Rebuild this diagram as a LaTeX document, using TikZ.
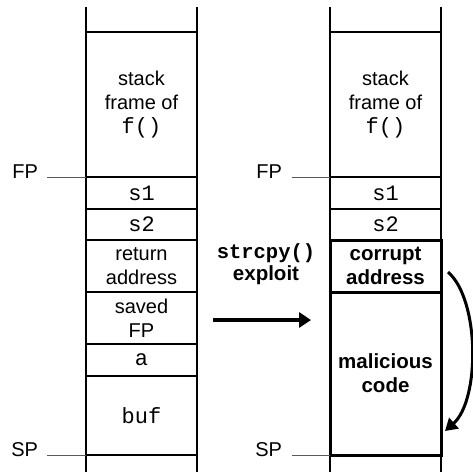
\documentclass[tikz,border=0pt]{standalone}
\usepackage{fontspec}
\setmainfont{Liberation Sans}
\setmonofont{Liberation Mono}
\usetikzlibrary{positioning,arrows.meta}

\newcommand{\code}[1]{{\fontsize{22}{24}\selectfont\texttt{#1}}}

\begin{document}
\begin{tikzpicture}
[x=1pt,y=-1pt,
every node/.style={inner sep=0pt,outer sep=0pt,align=center,font=\fontsize{20}{24}\selectfont},
cell/.style={draw,line width=1.3pt,minimum width=111pt},
hot/.style={cell,line width=3pt,font=\fontsize{20.5}{24}\selectfont\bfseries},
lab/.style={anchor=east},
pointer/.style={line width=0.8pt,gray!70!black},
col/.style={line width=1.3pt},
push/.style={line width=4pt,-{Triangle[length=12pt,width=15pt]}},
jump/.style={line width=3pt,-{Triangle[length=12pt,width=14pt]}}]

\useasboundingbox (0,0) rectangle (473,472);

% left stack
\node[cell,minimum height=145pt,anchor=north] (lframe) at (141.5,32) {stack\\frame of\\\code{f()}};
\node[cell,minimum height=32pt,below=0pt of lframe] (ls1) {\code{s1}};
\node[cell,minimum height=31pt,below=0pt of ls1] (ls2) {\code{s2}};
\node[cell,minimum height=52pt,below=0pt of ls2] (lret) {return\\address};
\node[cell,minimum height=52pt,below=0pt of lret] (lsaved) {saved\\FP};
\node[cell,minimum height=32pt,below=0pt of lsaved] (la) {\code{a}};
\node[cell,minimum height=79pt,below=0pt of la] (lbuf) {\code{buf}};
\draw[col] (lframe.north west) -- ++(0,-25);
\draw[col] (lframe.north east) -- ++(0,-25);
\draw[col] (lbuf.south west) -- ++(0,17);
\draw[col] (lbuf.south east) -- ++(0,17);

% right stack
\node[cell,minimum height=145pt,anchor=north] (rframe) at (385.5,32) {stack\\frame of\\\code{f()}};
\node[cell,minimum height=32pt,below=0pt of rframe] (rs1) {\code{s1}};
\node[cell,minimum height=31pt,below=0pt of rs1] (rs2) {\code{s2}};
\node[hot,minimum height=52pt,below=0pt of rs2] (rcorrupt) {corrupt\\address};
\node[hot,minimum height=163pt,below=0pt of rcorrupt] (rcode) {malicious\\code};
\draw[col] (rframe.north west) -- ++(0,-25);
\draw[col] (rframe.north east) -- ++(0,-25);
\draw[col] (rcode.south west) -- ++(0,17);
\draw[col] (rcode.south east) -- ++(0,17);

% pointers
\node[lab] (lfp) at (38,172) {FP};
\node[lab] (lsp) at (38,450) {SP};
\node[lab] (rfp) at (282,172) {FP};
\node[lab] (rsp) at (282,450) {SP};
\draw[pointer] (ls1.north west) -- ++(-39,0);
\draw[pointer] (lbuf.south west) -- ++(-39,0);
\draw[pointer] (rs1.north west) -- ++(-38,0);
\draw[pointer] (rcode.south west) -- ++(-38,0);

% exploit
\node[font=\fontsize{20.5}{22}\selectfont\bfseries] (exploit) at (266,264)
  {\texttt{strcpy()}\\exploit};
\coordinate (pushfrom) at (213,320);
\coordinate (pushto) at (311,320);
\draw[push] (pushfrom) -- (pushto);
\coordinate (jumpfrom) at (448,272);
\coordinate (jumpto) at (445,431);
\draw[jump] (jumpfrom) .. controls (480,300) and (480,400) .. (jumpto);
\end{tikzpicture}
\end{document}
